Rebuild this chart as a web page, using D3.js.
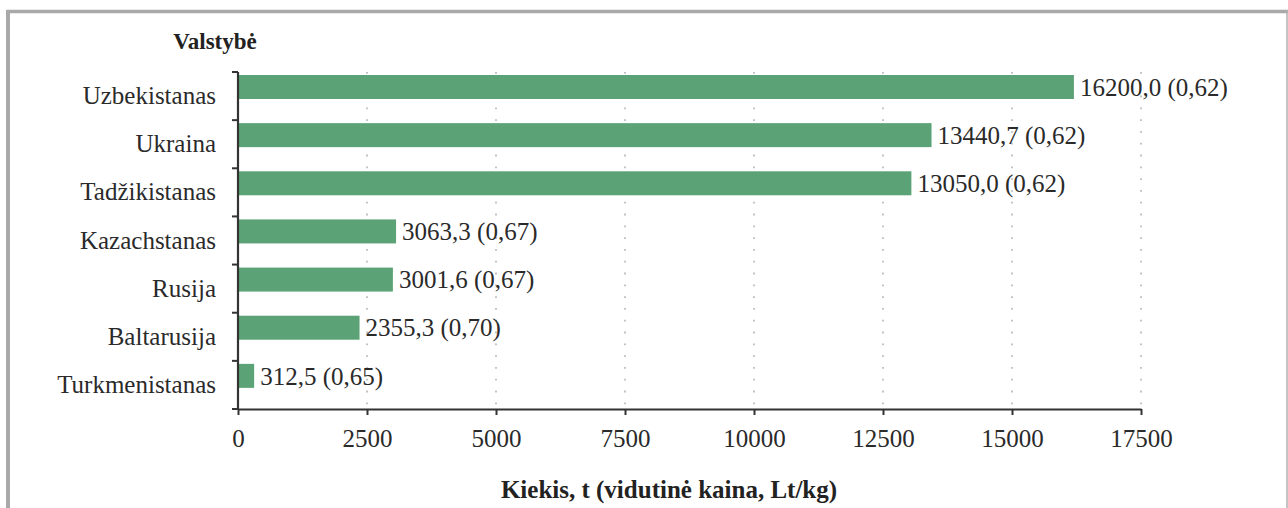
<!DOCTYPE html>
<html><head><meta charset="utf-8">
<script src="https://cdn.jsdelivr.net/npm/d3@7"></script>
<style>
html,body{margin:0;padding:0;background:#fff;}
svg{display:block;font-family:"Liberation Serif","Times New Roman",serif;}
</style></head>
<body>
<svg id="c" width="1288" height="508"></svg>
<script>
const categories = ["Uzbekistanas","Ukraina","Tadžikistanas","Kazachstanas","Rusija","Baltarusija","Turkmenistanas"];
const quantities = [16200.0, 13440.7, 13050.0, 3063.3, 3001.6, 2355.3, 312.5];
const prices = ["0,62","0,62","0,62","0,67","0,67","0,70","0,65"];
const qtyLabels = ["16200,0","13440,7","13050,0","3063,3","3001,6","2355,3","312,5"];
const xTicks = [0,2500,5000,7500,10000,12500,15000,17500];
const yTitle = "Valstybė";
const xTitle = "Kiekis, t (vidutinė kaina, Lt/kg)";

const svg = d3.select("#c");
// frame
svg.append("line").attr("x1",8).attr("x2",8).attr("y1",10).attr("y2",508).attr("stroke","#a9a9a9").attr("stroke-width",4);
svg.append("line").attr("x1",6).attr("x2",1288).attr("y1",11.5).attr("y2",11.5).attr("stroke","#a9a9a9").attr("stroke-width",3.5);
svg.append("line").attr("x1",1287).attr("x2",1287).attr("y1",10).attr("y2",508).attr("stroke","#b0b0b0").attr("stroke-width",1.5);

const x = d3.scaleLinear().domain([0,17500]).range([238,1141]);
const y = d3.scaleBand().domain(categories).range([72,409]);

// grid
svg.append("g").selectAll("line").data(xTicks.slice(1)).join("line")
  .attr("x1",d=>x(d)).attr("x2",d=>x(d)).attr("y1",72).attr("y2",409)
  .attr("stroke","#bdbdbd").attr("stroke-width",1.8).attr("stroke-dasharray","1.8,10");

// bars
svg.append("g").selectAll("rect").data(categories).join("rect")
  .attr("x",x(0)).attr("y",d=>y(d)+3).attr("height",24)
  .attr("width",(d,i)=>x(quantities[i])-x(0)).attr("fill","#5ba377");

// value labels
svg.append("g").selectAll("text").data(categories).join("text")
  .attr("x",(d,i)=>x(quantities[i])+6).attr("y",d=>y(d)+15).attr("dy","0.35em")
  .attr("font-size",25).attr("fill","#2a2a2a")
  .text((d,i)=>`${qtyLabels[i]} (${prices[i]})`);

// x axis
const xa = svg.append("g").attr("transform","translate(0,409)")
  .call(d3.axisBottom(x).tickValues(xTicks).tickFormat(d=>d).tickSize(6).tickSizeOuter(0).tickPadding(14));
xa.select(".domain").attr("stroke","#333").attr("stroke-width",2.2);
xa.selectAll(".tick line").attr("stroke","#333").attr("stroke-width",2);
xa.selectAll(".tick text").attr("font-size",25).attr("fill","#2a2a2a").attr("font-family","Liberation Serif, serif");

// y axis
const ya = svg.append("g").attr("transform","translate(238,0)")
  .call(d3.axisLeft(y).tickSize(0).tickPadding(22));
ya.select(".domain").attr("stroke","#333").attr("stroke-width",2.2).attr("d","M0,72V409");
ya.selectAll(".tick text").attr("font-size",25).attr("fill","#2a2a2a").attr("font-family","Liberation Serif, serif");
// boundary ticks
const bounds = categories.map(c=>y(c)).concat([409]);
svg.append("g").selectAll("line").data(bounds).join("line")
  .attr("x1",232).attr("x2",238).attr("y1",d=>d).attr("y2",d=>d)
  .attr("stroke","#333").attr("stroke-width",2);

// titles
svg.append("text").attr("x",215).attr("y",49).attr("text-anchor","middle")
  .attr("font-size",23).attr("font-weight","bold").attr("fill","#222").text(yTitle);
svg.append("text").attr("x",669).attr("y",498).attr("text-anchor","middle")
  .attr("font-size",25).attr("font-weight","bold").attr("fill","#222").text(xTitle);
</script>
</body></html>
